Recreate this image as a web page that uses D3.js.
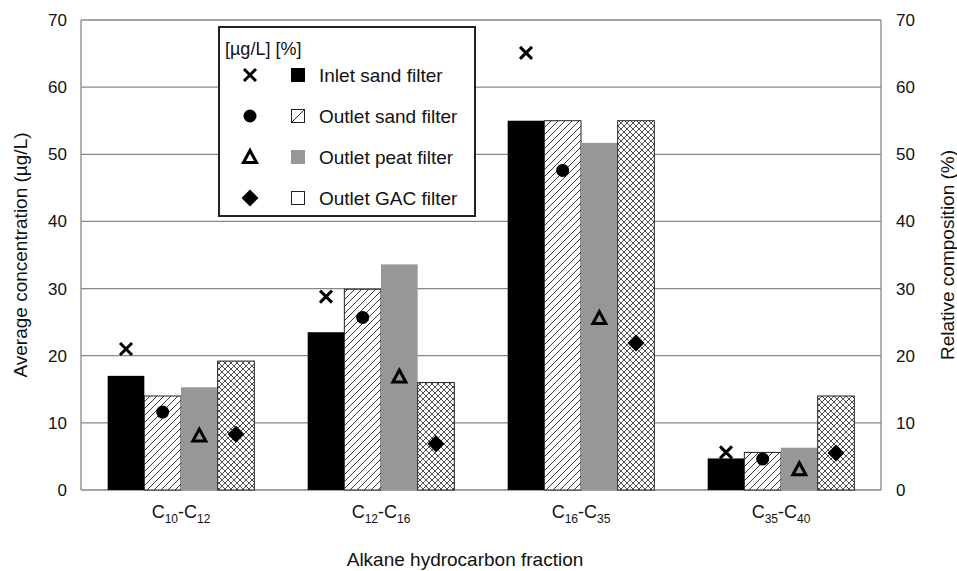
<!DOCTYPE html>
<html>
<head>
<meta charset="utf-8">
<script src="https://cdn.jsdelivr.net/npm/d3@7"></script>
<style>
  html, body { margin: 0; padding: 0; background: #fff; }
  svg { display: block; font-family: "Liberation Sans", Arial, Helvetica, sans-serif; }
</style>
</head>
<body>
<svg id="chart" width="957" height="571"></svg>
<script>
// ---------- DATA ----------
const categories = ["C10-C12", "C12-C16", "C16-C35", "C35-C40"];
const catMain = [["10", "12"], ["12", "16"], ["16", "35"], ["35", "40"]];
const seriesNames = ["Inlet sand filter", "Outlet sand filter", "Outlet peat filter", "Outlet GAC filter"];
// Relative composition (%) - bars
const pctInlet   = [17.0, 23.5, 55.0, 4.7];
const pctOutSand = [14.0, 29.9, 55.0, 5.6];
const pctOutPeat = [15.3, 33.6, 51.7, 6.3];
const pctOutGAC  = [19.2, 16.0, 55.0, 14.0];
// Average concentration (µg/L) - markers
const concInlet   = [21.0, 28.8, 65.1, 5.6];
const concOutSand = [11.6, 25.7, 47.6, 4.6];
const concOutPeat = [8.1, 16.9, 25.6, 3.1];
const concOutGAC  = [8.3, 6.9, 21.9, 5.5];
const yTicks = [0, 10, 20, 30, 40, 50, 60, 70];
const yTitleLeft = "Average concentration (\u00b5g/L)";
const yTitleRight = "Relative composition (%)";
const xTitle = "Alkane hydrocarbon fraction";
const legendHeader = "[\u00b5g/L] [%]";

// ---------- LAYOUT ----------
const svg = d3.select("#chart");
const L = 81, R = 881, T = 20, B = 490;
const gridColor = "#878787";

const x0 = d3.scaleBand().domain(categories).range([L, R]).paddingInner(0.2667).paddingOuter(0.1333);
const x1 = d3.scaleBand().domain(seriesNames).range([0, x0.bandwidth()]).padding(0);
const y = d3.scaleLinear().domain([0, 70]).range([B, T]);

// patterns
const defs = svg.append("defs");
const diag = defs.append("pattern").attr("id", "diag").attr("patternUnits", "userSpaceOnUse")
  .attr("width", 7).attr("height", 7);
diag.append("rect").attr("width", 7).attr("height", 7).attr("fill", "#fff");
diag.append("path").attr("d", "M-1,1 l2,-2 M0,7 l7,-7 M6,8 l2,-2")
  .attr("stroke", "#222").attr("stroke-width", 0.9);
const cross = defs.append("pattern").attr("id", "cross").attr("patternUnits", "userSpaceOnUse")
  .attr("width", 6).attr("height", 6);
cross.append("rect").attr("width", 6).attr("height", 6).attr("fill", "#fff");
cross.append("path").attr("d", "M-1,1 l2,-2 M0,6 l6,-6 M5,7 l2,-2 M-1,5 l2,2 M0,0 l6,6 M5,-1 l2,2")
  .attr("stroke", "#222").attr("stroke-width", 0.8);

// gridlines
svg.append("g").selectAll("line").data(yTicks).join("line")
  .attr("x1", L).attr("x2", R).attr("y1", d => y(d)).attr("y2", d => y(d))
  .attr("stroke", gridColor).attr("stroke-width", 1.3);
// frame verticals
svg.append("line").attr("x1", L).attr("x2", L).attr("y1", y(70)).attr("y2", y(0)).attr("stroke", gridColor).attr("stroke-width", 1.3);
svg.append("line").attr("x1", R).attr("x2", R).attr("y1", y(70)).attr("y2", y(0)).attr("stroke", gridColor).attr("stroke-width", 1.3);

// axes
const axL = svg.append("g").attr("transform", `translate(${L},0)`)
  .call(d3.axisLeft(y).tickValues(yTicks).tickSize(0).tickPadding(14));
const axR = svg.append("g").attr("transform", `translate(${R},0)`)
  .call(d3.axisRight(y).tickValues(yTicks).tickSize(0).tickPadding(15));
[axL, axR].forEach(a => {
  a.select(".domain").remove();
  a.selectAll("text").attr("font-size", 17).attr("fill", "#111")
    .attr("font-family", '"Liberation Sans", Arial, sans-serif');
});

// bars
const pctSeries = [pctInlet, pctOutSand, pctOutPeat, pctOutGAC];
const barStyles = [
  { fill: "#000", stroke: "none" },
  { fill: "url(#diag)", stroke: "#222" },
  { fill: "#979797", stroke: "none" },
  { fill: "url(#cross)", stroke: "#222" }
];
const barData = [];
categories.forEach((c, ci) => seriesNames.forEach((s, si) => barData.push({ c, s, si, v: pctSeries[si][ci] })));
svg.append("g").selectAll("rect").data(barData).join("rect")
  .attr("x", d => x0(d.c) + x1(d.s))
  .attr("y", d => y(d.v))
  .attr("width", x1.bandwidth())
  .attr("height", d => y(0) - y(d.v))
  .attr("fill", d => barStyles[d.si].fill)
  .attr("stroke", d => barStyles[d.si].stroke)
  .attr("stroke-width", 1);

// markers
function drawMarker(g, type) {
  if (type === 0) {
    g.append("path").attr("d", "M-6,-6L6,6M-6,6L6,-6").attr("stroke", "#000").attr("stroke-width", 3).attr("fill", "none");
  } else if (type === 1) {
    g.append("circle").attr("r", 6.5).attr("fill", "#000");
  } else if (type === 2) {
    g.append("path").attr("d", "M0,-6.5L6.5,5.5L-6.5,5.5Z").attr("stroke", "#000").attr("stroke-width", 3)
      .attr("fill", "none").attr("stroke-linejoin", "miter");
  } else {
    g.append("path").attr("d", "M0,-8.5L8.5,0L0,8.5L-8.5,0Z").attr("fill", "#000");
  }
}
const concSeries = [concInlet, concOutSand, concOutPeat, concOutGAC];
const markerData = [];
categories.forEach((c, ci) => seriesNames.forEach((s, si) => markerData.push({ c, s, si, v: concSeries[si][ci] })));
const mg = svg.append("g");
markerData.forEach(d => {
  const g = mg.append("g").attr("transform", `translate(${x0(d.c) + x1(d.s) + x1.bandwidth() / 2},${y(d.v)})`);
  drawMarker(g, d.si);
});

// category labels with subscripts
categories.forEach((c, ci) => {
  const t = svg.append("text").attr("x", x0(c) + x0.bandwidth() / 2).attr("y", 518)
    .attr("text-anchor", "middle").attr("font-size", 18).attr("fill", "#111");
  t.append("tspan").text("C");
  t.append("tspan").text(catMain[ci][0]).attr("font-size", 12).attr("dy", 5);
  t.append("tspan").text("-C").attr("dy", -5);
  t.append("tspan").text(catMain[ci][1]).attr("font-size", 12).attr("dy", 5);
});

// axis titles
svg.append("text").attr("transform", `translate(27,${(T + B) / 2}) rotate(-90)`)
  .attr("text-anchor", "middle").attr("font-size", 19).attr("fill", "#111").text(yTitleLeft);
svg.append("text").attr("transform", `translate(954,${(T + B) / 2}) rotate(-90)`)
  .attr("text-anchor", "middle").attr("font-size", 19).attr("fill", "#111").text(yTitleRight);
svg.append("text").attr("x", 465).attr("y", 566).attr("text-anchor", "middle")
  .attr("font-size", 19).attr("fill", "#111").text(xTitle);

// legend
const lg = svg.append("g");
lg.append("rect").attr("x", 219).attr("y", 27).attr("width", 256).attr("height", 189)
  .attr("fill", "#fff").attr("stroke", "#222").attr("stroke-width", 2);
lg.append("text").attr("x", 225).attr("y", 55).attr("font-size", 18).attr("fill", "#111").text(legendHeader);
const rowY = [75, 116, 157, 198];
seriesNames.forEach((s, i) => {
  const g = lg.append("g").attr("transform", `translate(0,${rowY[i]})`);
  drawMarker(g.append("g").attr("transform", "translate(250,0)"), i);
  const sw = g.append("g").attr("transform", "translate(291,-7)");
  if (i === 0) sw.append("rect").attr("width", 14).attr("height", 14).attr("fill", "#000");
  else if (i === 1) {
    sw.append("rect").attr("x", 0.5).attr("y", 0.5).attr("width", 13).attr("height", 13).attr("fill", "#fff").attr("stroke", "#222").attr("stroke-width", 1);
    sw.append("line").attr("x1", 1).attr("y1", 13).attr("x2", 13).attr("y2", 1).attr("stroke", "#222").attr("stroke-width", 1);
  } else if (i === 2) sw.append("rect").attr("width", 14).attr("height", 14).attr("fill", "#979797");
  else sw.append("rect").attr("x", 0.5).attr("y", 0.5).attr("width", 13).attr("height", 13).attr("fill", "#fff").attr("stroke", "#222").attr("stroke-width", 1);
  g.append("text").attr("x", 319).attr("y", 7).attr("font-size", 19).attr("fill", "#111").text(s);
});
</script>
</body>
</html>
